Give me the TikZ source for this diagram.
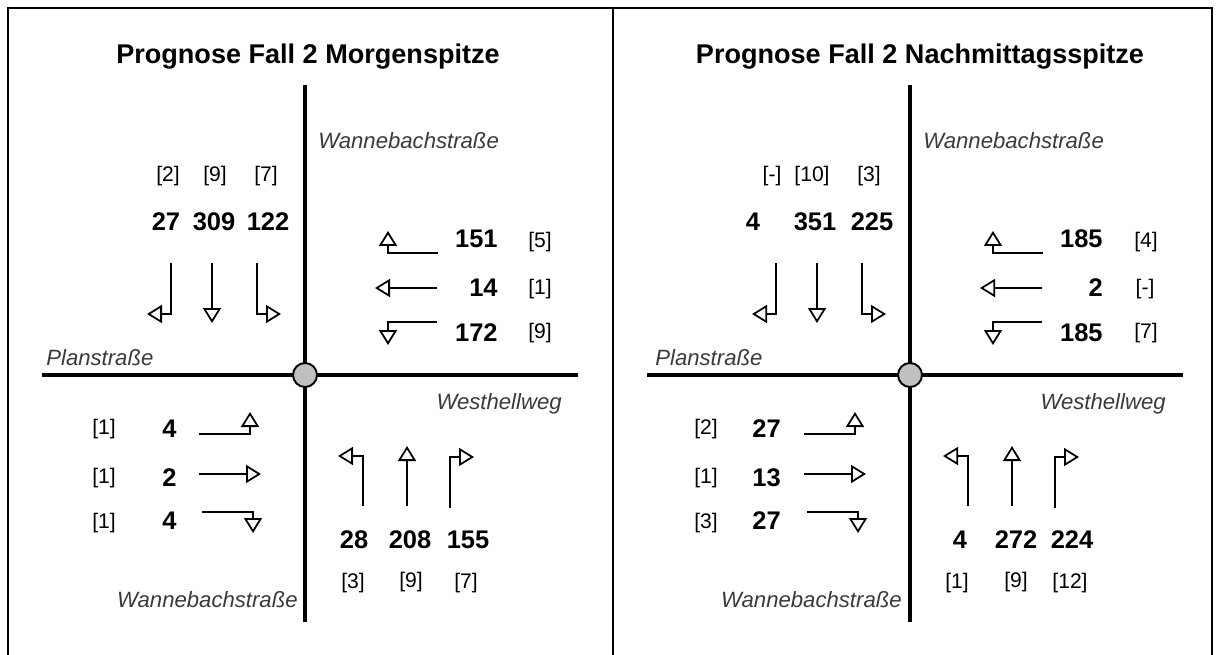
\documentclass[tikz,border=0pt]{standalone}
\usepackage{fontspec}
\setmainfont{Liberation Sans}
\usetikzlibrary{arrows.meta}
\definecolor{knotgray}{HTML}{C0C0C0}
\definecolor{labelgray}{HTML}{3A3A3A}

\begin{document}
\begin{tikzpicture}[x=0.02cm,y=-0.02cm,
  frame/.style={line width=1.3pt},
  road/.style={line width=2pt},
  knot/.style={circle, draw, fill=knotgray, line width=1.1pt, minimum size=0.48cm, inner sep=0pt},
  mov/.style={line width=1pt, -{Triangle[open,length=0.3cm,width=0.36cm]}},
  titel/.style={font=\fontsize{15.4}{17}\selectfont\bfseries},
  zahl/.style={font=\fontsize{14.5}{16}\selectfont\bfseries, inner sep=0pt},
  anteil/.style={font=\fontsize{12}{14}\selectfont, inner sep=0pt},
  strasse/.style={font=\fontsize{12.6}{15}\selectfont\itshape, text=labelgray, inner sep=0pt}]
\useasboundingbox (0,0) rectangle (1219,655);
% frame
\draw[frame] (8,655) -- (8,8) -- (1212,8) -- (1212,655);
\draw[frame] (613,8) -- (613,655);

% morning peak
\begin{scope}
\node[titel] (titelA) at (308,57) {Prognose Fall 2 Morgenspitze};
\draw[road] (305,85) -- (305,622);
\draw[road] (42,375) -- (578,375);
\node[knot] (knotA) at (305,375) {};
\node[strasse, anchor=west] (nordA) at (318,141) {Wannebachstraße};
\node[strasse, anchor=west] (westA) at (46,358) {Planstraße};
\node[strasse, anchor=east] (ostA) at (562,404) {Westhellweg};
\node[strasse, anchor=east] (suedA) at (298,600) {Wannebachstraße};
% from north
\node[anteil] at (168,176) {[2]};
\node[anteil] at (215,176) {[9]};
\node[anteil] at (266,176) {[7]};
\node[zahl] at (166,222) {27};
\node[zahl] at (214,222) {309};
\node[zahl] at (268,222) {122};
\draw[mov] (171,263) |- (147,314);
\draw[mov] (212,263) -- (212,323);
\draw[mov] (257,263) |- (281,314);
% from east
\draw[mov] (438,253) -| (388,231);
\draw[mov] (437,288) -- (375,288);
\draw[mov] (437,322) -| (388,345);
\node[zahl, anchor=east] at (498,239) {151};
\node[zahl, anchor=east] at (498,288) {14};
\node[zahl, anchor=east] at (498,333) {172};
\node[anteil] at (540,242) {[5]};
\node[anteil] at (540,289) {[1]};
\node[anteil] at (540,333) {[9]};
% from west
\node[anteil] at (104,429) {[1]};
\node[anteil] at (104,478) {[1]};
\node[anteil] at (104,523) {[1]};
\node[zahl, anchor=west] at (162,429) {4};
\node[zahl, anchor=west] at (162,478) {2};
\node[zahl, anchor=west] at (162,521) {4};
\draw[mov] (199,434) -| (250,412);
\draw[mov] (199,474) -- (261,474);
\draw[mov] (202,512) -| (253,533);
% from south
\draw[mov] (363,506) |- (338,456);
\draw[mov] (407,506) -- (407,446);
\draw[mov] (450,508) |- (474,457);
\node[zahl] at (354,540) {28};
\node[zahl] at (410,540) {208};
\node[zahl] at (468,540) {155};
\node[anteil] at (353,583) {[3]};
\node[anteil] at (411,582) {[9]};
\node[anteil] at (466,583) {[7]};
\end{scope}

% afternoon peak
\begin{scope}[shift={(605,0)}]
\node[titel] (titelB) at (315,57) {Prognose Fall 2 Nachmittagsspitze};
\draw[road] (305,85) -- (305,622);
\draw[road] (42,375) -- (578,375);
\node[knot] (knotB) at (305,375) {};
\node[strasse, anchor=west] (nordB) at (318,141) {Wannebachstraße};
\node[strasse, anchor=west] (westB) at (50,358) {Planstraße};
\node[strasse, anchor=east] (ostB) at (561,404) {Westhellweg};
\node[strasse, anchor=east] (suedB) at (297,600) {Wannebachstraße};
% from north
\node[anteil] at (167,176) {[-]};
\node[anteil] at (207,176) {[10]};
\node[anteil] at (264,176) {[3]};
\node[zahl] at (148,222) {4};
\node[zahl] at (210,222) {351};
\node[zahl] at (267,222) {225};
\draw[mov] (171,263) |- (147,314);
\draw[mov] (212,263) -- (212,323);
\draw[mov] (257,263) |- (281,314);
% from east
\draw[mov] (438,253) -| (388,231);
\draw[mov] (437,288) -- (375,288);
\draw[mov] (437,322) -| (388,345);
\node[zahl, anchor=east] at (498,239) {185};
\node[zahl, anchor=east] at (498,288) {2};
\node[zahl, anchor=east] at (498,333) {185};
\node[anteil] at (541,242) {[4]};
\node[anteil] at (540,289) {[-]};
\node[anteil] at (541,333) {[7]};
% from west
\node[anteil] at (101,429) {[2]};
\node[anteil] at (101,478) {[1]};
\node[anteil] at (101,523) {[3]};
\node[zahl, anchor=west] at (147,429) {27};
\node[zahl, anchor=west] at (147,478) {13};
\node[zahl, anchor=west] at (147,521) {27};
\draw[mov] (199,434) -| (250,412);
\draw[mov] (199,474) -- (261,474);
\draw[mov] (202,512) -| (253,533);
% from south
\draw[mov] (363,506) |- (338,456);
\draw[mov] (407,506) -- (407,446);
\draw[mov] (450,508) |- (474,457);
\node[zahl] at (355,540) {4};
\node[zahl] at (411,540) {272};
\node[zahl] at (467,540) {224};
\node[anteil] at (352,583) {[1]};
\node[anteil] at (411,582) {[9]};
\node[anteil] at (465,583) {[12]};
\end{scope}
\end{tikzpicture}
\end{document}
